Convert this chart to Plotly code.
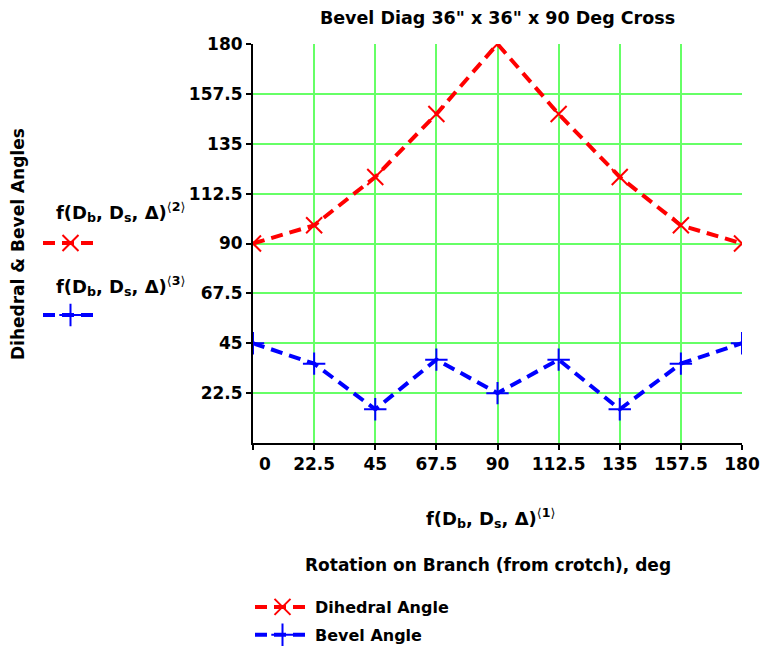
import plotly.graph_objects as go

rotation = [0, 22.5, 45, 67.5, 90, 112.5, 135, 157.5, 180]
dihedral = [90, 98.2, 120, 148.4, 180, 148.4, 120, 98.2, 90]
bevel = [45, 35.8, 15.2, 37.6, 22.5, 37.6, 15.2, 35.8, 45]
x_ticks = [0, 22.5, 45, 67.5, 90, 112.5, 135, 157.5, 180]
x_labels = ["\u00a0\u00a0\u00a0\u00a00", "22.5", "45", "67.5", "90", "112.5", "135", "157.5", "180"]
y_ticks = [22.5, 45, 67.5, 90, 112.5, 135, 157.5, 180]
y_labels = ["22.5", "45", "67.5", "90", "112.5", "135", "157.5", "180"]

FONT = "DejaVu Sans"
RED = "#ff0000"
BLUE = "#0000ff"
GRID = "#66ff66"

red_line = dict(color=RED, width=4, dash="12px,7px")
blue_line = dict(color=BLUE, width=4, dash="12px,7px")
red_marker = dict(symbol="x-thin-open", size=16, color=RED, line=dict(color=RED, width=2))
blue_marker = dict(symbol="cross-thin-open", size=16, color=BLUE, line=dict(color=BLUE, width=2))

fig = go.Figure()
fig.add_trace(go.Scatter(x=rotation, y=dihedral, mode="lines+markers", name="Dihedral Angle",
                         line=red_line, marker=red_marker, legend="legend", legendgroup="a"))
fig.add_trace(go.Scatter(x=rotation, y=bevel, mode="lines+markers", name="Bevel Angle",
                         line=blue_line, marker=blue_marker, legend="legend", legendgroup="b"))
# left-side samples
fig.add_trace(go.Scatter(x=[None], y=[None], mode="lines+markers", name=" ",
                         line=red_line, marker=red_marker, legend="legend2"))
fig.add_trace(go.Scatter(x=[None], y=[None], mode="lines+markers", name=" ",
                         line=blue_line, marker=blue_marker, legend="legend3"))

W, H = 768, 650
L, R, T, B = 253, 26, 44, 207
pw, ph = W - L - R, H - T - B

def cy(yp):
    return 1 - yp / H

def cx(xp):
    return xp / W

def bold(size):
    return dict(family=FONT, size=size, color="black", weight="bold")

fig.update_layout(
    width=W, height=H,
    margin=dict(l=L, r=R, t=T, b=B, autoexpand=False),
    plot_bgcolor="white", paper_bgcolor="white",
    font=bold(15),
    title=dict(text="Bevel Diag 36\" x 36\" x 90 Deg Cross", x=(L + pw / 2) / W, xanchor="center",
               y=1 - 18 / H, yanchor="middle", font=bold(17.5)),
    xaxis=dict(range=[0, 180], tickvals=x_ticks, ticktext=x_labels, automargin=False,
               showgrid=True, gridcolor=GRID, gridwidth=2, zeroline=False,
               showline=True, linecolor="black", linewidth=2, ticks="outside", ticklen=5,
               tickcolor="black", tickwidth=2, tickfont=bold(17), ticklabelstandoff=0, tickangle=0),
    yaxis=dict(range=[0, 180], tickvals=y_ticks, ticktext=y_labels, automargin=False,
               showgrid=True, gridcolor=GRID, gridwidth=2, zeroline=False,
               showline=True, linecolor="black", linewidth=2, ticks="outside", ticklen=5,
               tickcolor="black", tickwidth=2, tickfont=bold(17)),
    legend=dict(xref="container", yref="container", x=cx(250), y=cy(590), xanchor="left", yanchor="top",
                bgcolor="rgba(0,0,0,0)", font=bold(16), itemwidth=55, tracegroupgap=4),
    legend2=dict(xref="container", yref="container", x=cx(38), y=cy(243), xanchor="left", yanchor="middle",
                 bgcolor="rgba(0,0,0,0)", font=dict(size=6), itemwidth=55),
    legend3=dict(xref="container", yref="container", x=cx(38), y=cy(315), xanchor="left", yanchor="middle",
                 bgcolor="rgba(0,0,0,0)", font=dict(size=6), itemwidth=55),
    showlegend=True,
)

fsub = "f(D<sub>b</sub>, D<sub>s</sub>, Δ)"

def sup(n):
    thin = "<span style='font-weight:normal'>"
    return "<sup>" + thin + "⟨</span>" + n + thin + "⟩</span></sup>"

anns = [
    dict(text="Dihedral & Bevel Angles", x=cx(18), y=cy(244), textangle=-90, font=bold(17)),
    dict(text=fsub + sup("2"), x=cx(120), y=cy(212), font=bold(18)),
    dict(text=fsub + sup("3"), x=cx(120), y=cy(286), font=bold(18)),
    dict(text=fsub + sup("1"), x=cx(490), y=cy(518), font=bold(18)),
    dict(text="Rotation on Branch (from crotch), deg", x=cx(488), y=cy(565), font=bold(17)),
]
for a in anns:
    fig.add_annotation(xref="paper", yref="paper", showarrow=False, xanchor="center", yanchor="middle",
                       **{**a, "x": (a["x"] * W - L) / pw, "y": (a["y"] * H - B) / ph})

fig.write_html("out.html")
